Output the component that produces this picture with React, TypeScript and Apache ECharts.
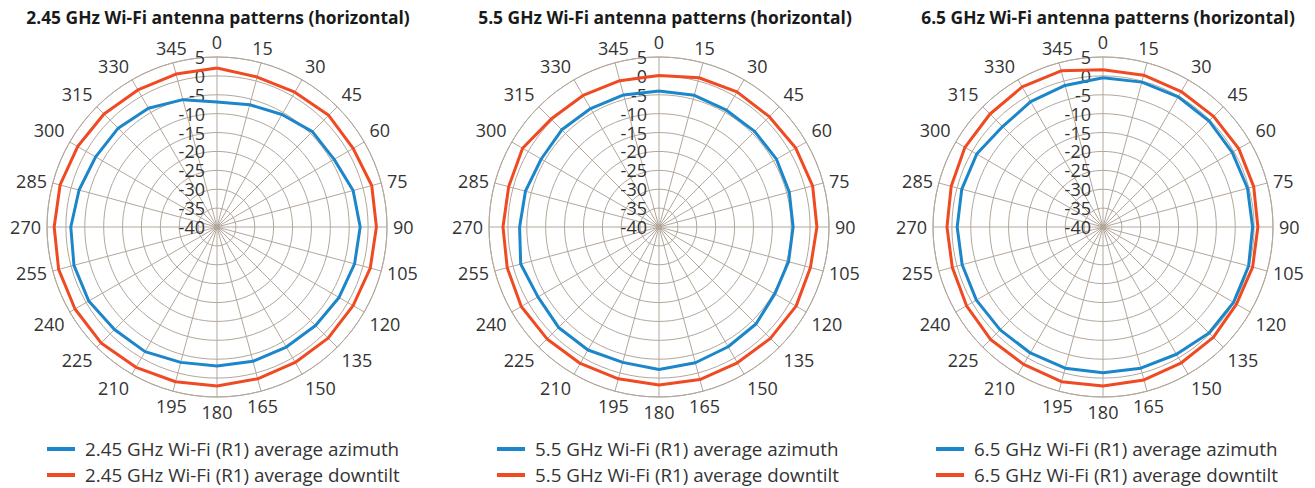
import React, { useEffect, useRef } from "react";
import * as echarts from "echarts";

const angles = [0, 15, 30, 45, 60, 75, 90, 105, 120, 135, 150, 165, 180, 195, 210, 225, 240, 255, 270, 285, 300, 315, 330, 345];
const radiusTicks = { min: -40, max: 5, step: 5 };

const titles = [
  "2.45 GHz Wi-Fi antenna patterns (horizontal)",
  "5.5 GHz Wi-Fi antenna patterns (horizontal)",
  "6.5 GHz Wi-Fi antenna patterns (horizontal)",
];
const azimuthNames = [
  "2.45 GHz Wi-Fi (R1) average azimuth",
  "5.5 GHz Wi-Fi (R1) average azimuth",
  "6.5 GHz Wi-Fi (R1) average azimuth",
];
const downtiltNames = [
  "2.45 GHz Wi-Fi (R1) average downtilt",
  "5.5 GHz Wi-Fi (R1) average downtilt",
  "6.5 GHz Wi-Fi (R1) average downtilt",
];

const azimuth245 = [-6.9, -6.5, -5.6, -4.3, -4.2, -2.7, -2.1, -2.3, -2.7, -3.1, -3.3, -3.2, -3.2, -2.9, -1.9, -1.6, -0.8, -0.8, -1.3, -2.2, -2.9, -3.0, -3.7, -5.1];
const downtilt245 = [2.1, 1.1, 1.2, 1.8, 1.6, 2.4, 2.2, 2.0, 1.6, 1.6, 1.4, 1.6, 2.1, 2.4, 2.9, 3.4, 3.4, 3.4, 3.1, 3.0, 2.6, 2.3, 1.9, 1.9];

const azimuth55 = [-4.0, -3.9, -4.3, -4.2, -4.1, -4.3, -4.5, -4.5, -4.6, -3.7, -3.4, -2.8, -2.3, -2.9, -2.4, -2.4, -3.0, -2.1, -3.1, -3.4, -4.0, -3.6, -3.8, -3.8];
const downtilt55 = [0.1, 0.9, 1.3, 1.3, 1.8, 2.1, 1.8, 1.5, 1.9, 1.7, 1.5, 1.8, 1.8, 1.6, 1.7, 1.9, 2.1, 1.6, 1.3, 1.2, 1.7, 0.4, 0.2, 0.1];

const azimuth65 = [-0.5, -0.3, -0.2, -0.3, -0.5, -0.4, -0.4, -0.1, -0.1, -0.3, -1.1, -1.3, -1.4, -1.3, -1.5, -1.5, -1.3, -1.4, -1.4, -1.3, -1.4, -2.4, -1.7, -1.2];
const downtilt65 = [1.6, 1.6, 1.4, 1.4, 1.5, 1.3, 1.0, 1.0, 0.8, 1.3, 1.5, 1.9, 2.1, 2.4, 2.0, 2.1, 1.7, 1.3, 1.3, 1.6, 2.2, 2.3, 2.8, 2.8];

const azimuthSets = [azimuth245, azimuth55, azimuth65];
const downtiltSets = [downtilt245, downtilt55, downtilt65];

const BLUE = "#1b86c9";
const ORANGE = "#f04a23";
const GRID = "#b3a79b";
const FONT = "Open Sans";

const centersX = [217, 659, 1103];
const titleX = [213, 660, 1103];
const centerY = 227;
const legendLeft = [47, 497, 936];
const legendTops = [438, 464];

function closed(values: number[]) {
  const pts = values.map((v, i) => [v, angles[i]]);
  pts.push([values[0], 360]);
  return pts;
}

export default function App() {
  const ref = useRef<HTMLDivElement>(null);
  useEffect(() => {
    if (!ref.current) return;
    const chart = echarts.init(ref.current, null, { renderer: "svg" });
    const polar: any[] = [];
    const angleAxis: any[] = [];
    const radiusAxis: any[] = [];
    const series: any[] = [];
    const title: any[] = [];
    const legend: any[] = [];
    for (let k = 0; k < 3; k++) {
      polar.push({ center: [centersX[k], centerY], radius: 170 });
      angleAxis.push({
        polarIndex: k,
        type: "value",
        min: 0,
        max: 360,
        interval: 15,
        startAngle: 90,
        clockwise: true,
        axisLine: { show: true, lineStyle: { color: GRID, width: 1 } },
        axisTick: { show: false },
        axisLabel: { show: true, margin: 6, color: "#333", fontSize: 18, fontFamily: FONT },
        splitLine: { show: true, lineStyle: { color: GRID, width: 1 } },
      });
      radiusAxis.push({
        polarIndex: k,
        type: "value",
        min: radiusTicks.min,
        max: radiusTicks.max,
        interval: radiusTicks.step,
        axisLine: { show: false },
        axisTick: { show: false },
        axisLabel: { show: true, margin: 12, color: "#333", fontSize: 18, fontFamily: FONT },
        splitLine: { show: true, lineStyle: { color: GRID, width: 1 } },
        z: 3,
      });
      series.push({
        name: azimuthNames[k],
        type: "line",
        coordinateSystem: "polar",
        polarIndex: k,
        data: closed(azimuthSets[k]),
        symbol: "none",
        lineStyle: { color: BLUE, width: 3 },
        itemStyle: { color: BLUE },
      });
      series.push({
        name: downtiltNames[k],
        type: "line",
        coordinateSystem: "polar",
        polarIndex: k,
        data: closed(downtiltSets[k]),
        symbol: "none",
        lineStyle: { color: ORANGE, width: 3 },
        itemStyle: { color: ORANGE },
      });
      title.push({
        text: titles[k],
        left: titleX[k],
        top: 3,
        textAlign: "center",
        textStyle: { fontFamily: FONT, fontWeight: "bold", fontSize: 17.4, color: "#1a1a1a" },
      });
      [azimuthNames[k], downtiltNames[k]].forEach((name, j) => {
        legend.push({
          data: [name],
          left: legendLeft[k],
          top: legendTops[j],
          padding: 0,
          icon: "rect",
          itemWidth: 28,
          itemHeight: 4,
          selectedMode: false,
          textStyle: { fontFamily: FONT, fontSize: 18.8, color: "#333", lineHeight: 22, padding: [0, 0, 0, 5] },
        });
      });
    }
    chart.setOption({
      animation: false,
      backgroundColor: "#ffffff",
      title,
      legend,
      polar,
      angleAxis,
      radiusAxis,
      series,
    });
    return () => chart.dispose();
  }, []);
  return (
    <div
      ref={ref}
      style={{ position: "fixed", left: 0, top: 0, width: 1315, height: 488 }}
    />
  );
}
